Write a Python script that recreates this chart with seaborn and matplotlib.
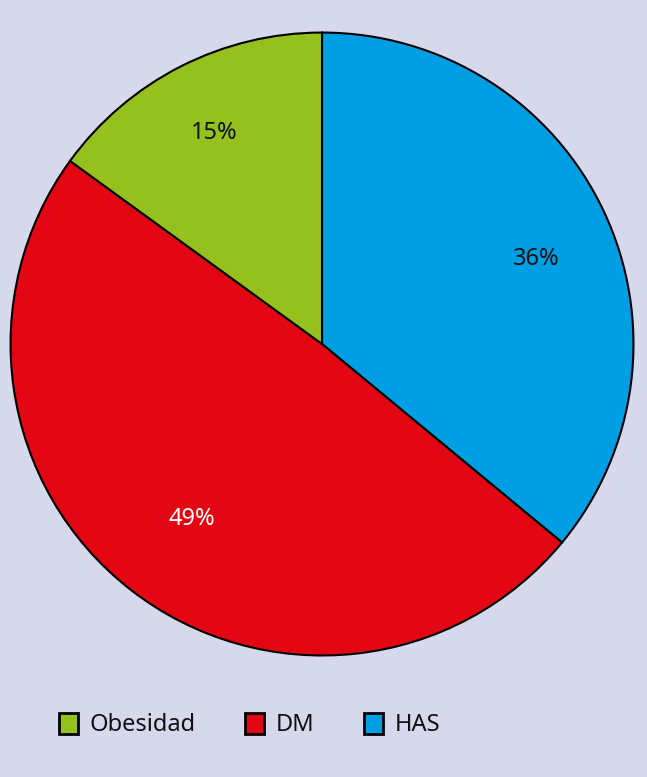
import matplotlib
matplotlib.use('Agg')
import numpy as np
import matplotlib.pyplot as plt
from matplotlib.patches import Patch
import seaborn as sns

sns.set_theme(style='white')
plt.rcParams['font.family'] = ['Noto Sans', 'DejaVu Sans']

# data, in drawing order (clockwise from 12 o'clock)
labels = ['HAS', 'DM', 'Obesidad']
values = [36, 49, 15]
colors = ['#009fe3', '#e30613', '#95c11f']
pct_colors = ['#111111', 'white', '#111111']
legend_order = ['Obesidad', 'DM', 'HAS']

bg = '#d6d8ec'

fig = plt.figure(figsize=(6.47, 7.77), dpi=100, facecolor=bg)
ax = fig.add_axes([0.0139, 0.1544, 0.9676, 0.8057])
ax.set_facecolor(bg)

wedges, texts, autotexts = ax.pie(
    values, colors=colors, startangle=90, counterclock=False,
    autopct='%d%%', pctdistance=0.74,
    wedgeprops=dict(edgecolor='black', linewidth=1.5),
    textprops=dict(fontsize=17))

# label placement a bit off the mid-angle, like the original
label_dist = [0.74, 0.70, 0.76]
label_turn = [-3.5, 1.0, 0.0]
for w, t, c, d, a in zip(wedges, autotexts, pct_colors, label_dist, label_turn):
    mid = np.deg2rad((w.theta1 + w.theta2) / 2 + a)
    t.set_position((d * np.cos(mid), d * np.sin(mid)))
    t.set_color(c)

ax.set_xlim(-1.005, 1.005)
ax.set_ylim(-1.005, 1.005)
ax.set_aspect('equal')

handles = {l: w for l, w in zip(labels, wedges)}
leg_handles = [Patch(facecolor=handles[l].get_facecolor(), edgecolor='black', linewidth=2)
               for l in legend_order]
leg = fig.legend(leg_handles, legend_order, loc='center', bbox_to_anchor=(0.386, 0.067),
                 ncol=3, frameon=False, fontsize=17, handlelength=0.8, handleheight=1.0,
                 handletextpad=0.5, columnspacing=2.1)
for t in leg.get_texts():
    t.set_color('#111111')

fig.savefig('out.png', dpi=100, facecolor=bg)
